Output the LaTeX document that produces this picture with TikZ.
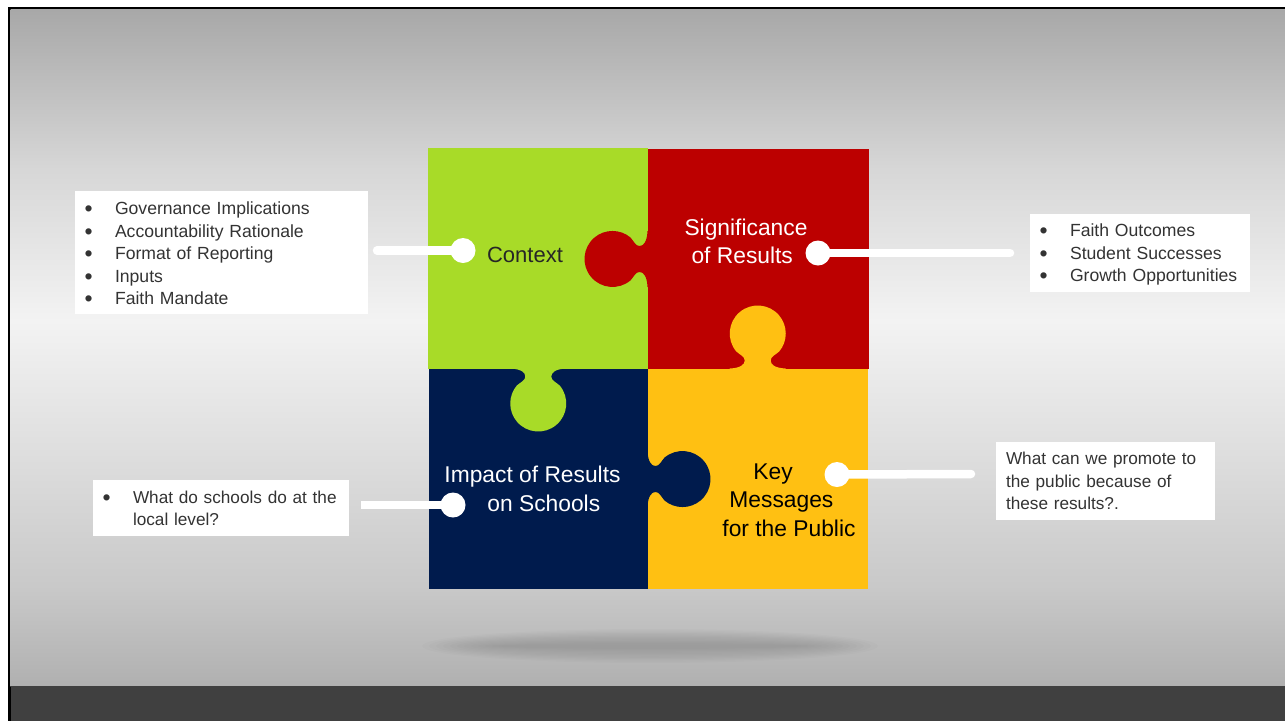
\documentclass[tikz,border=0pt]{standalone}
\usepackage{fontspec}
\setmainfont{Liberation Sans}
\definecolor{cgreen}{HTML}{A8DB28}
\definecolor{cred}{HTML}{BC0000}
\definecolor{cnavy}{HTML}{001B4D}
\definecolor{cyel}{HTML}{FFC012}
\definecolor{ctext}{HTML}{333333}
\definecolor{ga}{HTML}{A8A8A8}
\definecolor{gb}{HTML}{D6D6D6}
\definecolor{gc}{HTML}{F3F3F3}
\definecolor{gd}{HTML}{C8C8C8}
\definecolor{ge}{HTML}{B0B0B0}
\definecolor{cband}{HTML}{404040}
\newcommand{\knobpiece}[4]{%
  \begin{scope}[shift={(#1,#2)},rotate=#3,x=1pt,y=1pt]
    \fill[#4] (-1,28) -- (0,28) .. controls (0.5,17) and (4,13) .. (8,13)
      .. controls (12,13) and (13.5,17.5) .. (17,21.4)
      arc[start angle=130,end angle=-130,radius=28]
      .. controls (13.5,-17.5) and (12,-13) .. (8,-13)
      .. controls (4,-13) and (0.5,-17) .. (0,-28) -- (-1,-28) -- cycle;
  \end{scope}}
\newcommand{\bul}{\hspace*{3pt}\makebox[30.5pt][l]{\raisebox{-2pt}[0pt][0pt]{\fontsize{23pt}{22pt}\selectfont\textbullet}}}
\tikzset{
  infobox/.style={fill=white,inner sep=0pt},
  infotext/.style={text=ctext,align=left,inner sep=0pt},
  bodyfont/.style={font=\fontsize{17.6pt}{22.5pt}\selectfont},
  bodysmall/.style={font=\fontsize{17.2pt}{22.5pt}\selectfont},
  title/.style={font=\fontsize{22.8pt}{28.6pt}\selectfont,align=left,inner sep=0pt},
  dot/.style={circle,fill=white,minimum size=25pt,inner sep=0pt},
  wire/.style={white,line width=8.5pt},
  wireround/.style={wire,line cap=round}
}
\begin{document}
\begin{tikzpicture}[x=1pt,y=-1pt]
\useasboundingbox (0,0) rectangle (1285,721);
\fill[white] (0,0) rectangle (1285,721);
\fill[black] (8,7) rectangle (1285,721);
\shade[top color=ga,bottom color=gb] (10.5,9.5) rectangle (1285,166);
\shade[top color=gb,bottom color=gc] (10.5,165) rectangle (1285,321);
\shade[top color=gc,bottom color=gd] (10.5,320) rectangle (1285,591);
\shade[top color=gd,bottom color=ge] (10.5,590) rectangle (1285,686);
\fill[cband] (10.5,686) rectangle (1285,721);
% shadow
\foreach \k in {0,...,11}{
  \fill[black,opacity=0.012] (650,646) ellipse[x radius={228-7*\k},y radius={17-1.3*\k}];
}
% puzzle
\fill[cgreen] (428,147.5) rectangle (647.5,368.5);
\fill[cred] (647.5,148.5) rectangle (869,368.5);
\fill[cnavy] (428.5,368.5) rectangle (647.5,589);
\fill[cyel] (647.5,368.5) rectangle (868,589);
\knobpiece{647.5}{259}{180}{cred}
\knobpiece{757.7}{368.5}{90}{cyel}
\knobpiece{538.3}{368.5}{-90}{cgreen}
\knobpiece{647.5}{479}{0}{cnavy}
% titles
\node[title,font=\fontsize{22pt}{28.6pt}\selectfont,text=black!85] (tctx) at (525,254.5) {Context};
\node[title,text=white] (tsig) at (746,241.5) {Significance\\\hspace*{7pt}of Results};
\node[title,text=white] (timp) at (532.5,489) {Impact of Results\\\hspace*{43pt}on Schools};
\node[title,text=black] (tkey) at (789,500) {\hspace*{31pt}Key\\\hspace*{7pt}Messages\\for the Public};
% boxes
\node[infobox,minimum width=293pt,minimum height=123pt] (b1) at (221.5,252.5) {};
\node[infotext,bodyfont,text width=280pt] (t1) at (221.5,253.5)
 {\bul Governance Implications\\\bul Accountability Rationale\\\bul Format of Reporting\\\bul Inputs\\\bul Faith Mandate};
\node[infobox,minimum width=220pt,minimum height=78pt] (b2) at (1140,253) {};
\node[infotext,bodyfont,text width=207pt] (t2) at (1140,254.5)
 {\bul Faith Outcomes\\\bul Student Successes\\\bul Growth Opportunities};
\node[infobox,minimum width=256pt,minimum height=56pt] (b3) at (221,508) {};
\node[infotext,bodysmall,text width=243pt] (t3) at (221,508.5)
 {\bul What do schools do at the\\\hspace*{33.5pt}local level?};
\node[infobox,minimum width=219pt,minimum height=78pt] (b4) at (1105.5,481) {};
\node[infotext,bodysmall,text width=199pt] (t4) at (1105.5,481)
 {What can we promote to\\the public because of\\these results?.};
% connectors
\node[dot] (d1) at (463,250.5) {};
\node[dot] (d2) at (818,253) {};
\node[dot] (d3) at (453,505) {};
\node[dot] (d4) at (837,474.5) {};
\coordinate (e1) at (377,250.5);
\coordinate (e2) at (1010,253);
\coordinate (e3) at (361,505);
\coordinate (e4) at (971,474);
\draw[wireround] (e1) -- (d1.center);
\draw[wireround] (e2) -- (d2.center);
\draw[wire] (e3) -- (d3.center);
\draw[wireround] (e4) -- (d4.center);
\end{tikzpicture}
\end{document}
